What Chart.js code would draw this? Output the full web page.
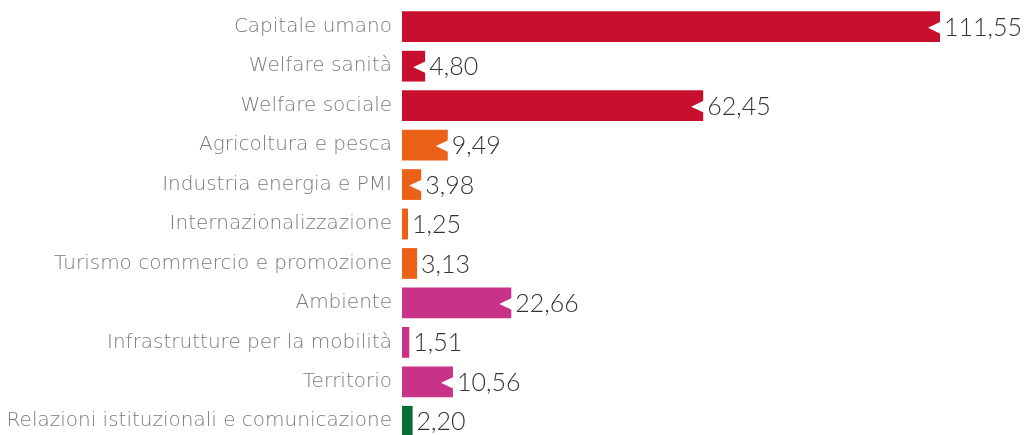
<!DOCTYPE html>
<html lang="it">
<head>
<meta charset="UTF-8" />
<title>Risorse per area</title>
<script src="https://cdn.jsdelivr.net/npm/chart.js"></script>
<style>
  html, body { margin: 0; padding: 0; background: #fff; overflow: hidden; }
  .chart-box { position: relative; width: 1024px; height: 445px; }
</style>
</head>
<body>
<div class="chart-box"><canvas id="areeChart"></canvas></div>
<script>
// dati
const categorie = [
  'Capitale umano', 'Welfare sanità', 'Welfare sociale',
  'Agricoltura e pesca', 'Industria energia e PMI', 'Internazionalizzazione',
  'Turismo commercio e promozione', 'Ambiente', 'Infrastrutture per la mobilità',
  'Territorio', 'Relazioni istituzionali e comunicazione'
];
const valori = [111.55, 4.80, 62.45, 9.49, 3.98, 1.25, 3.13, 22.66, 1.51, 10.56, 2.20];
const colori = [
  '#C8102E', '#C8102E', '#C8102E',
  '#EC6118', '#EC6118', '#EC6118', '#EC6118',
  '#C83287', '#C83287', '#C83287',
  '#0A6E32'
];

const FONT_VAL = "Lato, 'Open Sans', sans-serif";
const FONT_CAT = "'DejaVu Sans', sans-serif";

// tacca a freccia sulla punta della barra + etichetta del valore
const puntaBarre = {
  id: 'puntaBarre',
  afterDatasetsDraw(chart) {
    const ctx = chart.ctx;
    const meta = chart.getDatasetMeta(0);
    ctx.save();
    meta.data.forEach((bar, i) => {
      const w = bar.x - bar.base;
      const h = bar.height;
      if (w > 16) {
        ctx.fillStyle = '#ffffff';
        ctx.beginPath();
        ctx.moveTo(bar.x + 1, bar.y - h * 0.2 + 1);
        ctx.lineTo(bar.x - 12, bar.y + 1);
        ctx.lineTo(bar.x + 1, bar.y + h * 0.2 + 1);
        ctx.closePath();
        ctx.fill();
      }
      ctx.fillStyle = '#333333';
      ctx.font = '300 25px ' + FONT_VAL;
      ctx.textAlign = 'left';
      ctx.textBaseline = 'middle';
      ctx.fillText(valori[i].toFixed(2).replace('.', ','), bar.x + 4, bar.y + 1);
    });
    ctx.restore();
  }
};

new Chart(document.getElementById('areeChart'), {
  type: 'bar',
  data: {
    labels: categorie,
    datasets: [{
      data: valori,
      backgroundColor: colori,
      borderWidth: 0,
      categoryPercentage: 1,
      barPercentage: 0.78
    }]
  },
  options: {
    indexAxis: 'y',
    responsive: true,
    maintainAspectRatio: false,
    animation: false,
    layout: { padding: { top: 7, bottom: 4, left: 0, right: 84 } },
    scales: {
      x: {
        display: false,
        min: 0,
        max: 111.55
      },
      y: {
        afterFit: s => {
          s.width = 402;
          s.paddingTop = 0;
          s.paddingBottom = 0;
        },
        grid: { display: false },
        border: { display: false },
        ticks: {
          padding: 2,
          color: '#7a7a7a',
          font: { family: FONT_CAT, size: 20, weight: 200 }
        }
      }
    },
    plugins: {
      legend: { display: false },
      tooltip: { enabled: false }
    }
  },
  plugins: [puntaBarre]
});
</script>
</body>
</html>
